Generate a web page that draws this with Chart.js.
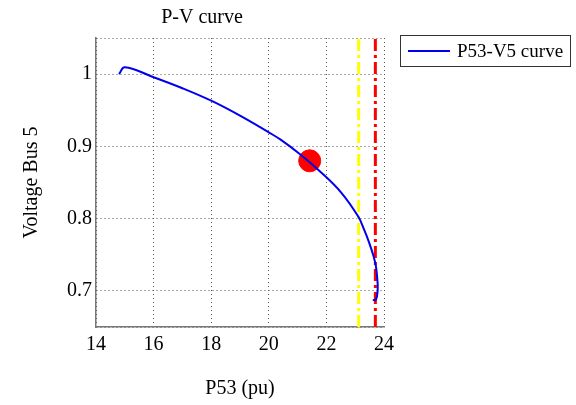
<!DOCTYPE html>
<html>
<head>
<meta charset="utf-8">
<script src="https://cdn.jsdelivr.net/npm/chart.js@4"></script>
<style>
  html, body { margin: 0; padding: 0; background: #fff; }
  #wrap { width: 576px; height: 405px; }
</style>
</head>
<body>
<div id="wrap"><canvas id="pv"></canvas></div>
<script>
// P-V curve data
const curveP = [14.8, 15.0, 16.0, 17.0, 18.0, 19.0, 20.0, 20.41, 21.04, 21.8, 22.5, 23.1, 23.31, 23.49, 23.64, 23.72, 23.77, 23.78, 23.72, 23.61];
const curveV = [1.000, 1.0095, 0.9957, 0.9805, 0.9632, 0.9425, 0.9194, 0.9093, 0.8905, 0.8646, 0.8368, 0.8032, 0.7847, 0.7662, 0.7476, 0.7338, 0.7153, 0.7014, 0.6875, 0.6875];

const operatingPoint = { p: 21.42, v: 0.880 };
const yellowLimitP = 23.12;
const redLimitP = 23.7;

const xTicks = [14, 16, 18, 20, 22, 24];
const yTicks = [0.65, 0.7, 0.8, 0.9, 1, 1.05];
const yLabelled = [0.7, 0.8, 0.9, 1];
const yMin = 0.65, yMax = 1.05;

const serif = "'Liberation Serif', 'Times New Roman', serif";

const curvePoints = curveP.map((p, i) => ({ x: p, y: curveV[i] }));

// legend drawn as a boxed entry to the right of the plot
const boxedLegend = {
    id: 'boxedLegend',
    afterDraw(chart) {
        const ctx = chart.ctx;
        const area = chart.chartArea;
        const left = area.right + 16;
        const top = 35;
        ctx.save();
        ctx.strokeStyle = '#333';
        ctx.lineWidth = 1;
        ctx.strokeRect(left + 0.5, top + 0.5, 170, 31);
        ctx.strokeStyle = '#0000ee';
        ctx.lineWidth = 2;
        ctx.beginPath();
        ctx.moveTo(left + 8, top + 16);
        ctx.lineTo(left + 50, top + 16);
        ctx.stroke();
        ctx.fillStyle = '#000';
        ctx.font = '19px ' + serif;
        ctx.textBaseline = 'middle';
        ctx.fillText('P53-V5 curve', left + 57, top + 17);
        ctx.restore();
    }
};

new Chart(document.getElementById('pv'), {
    type: 'scatter',
    data: {
        datasets: [
            {
                label: 'P53-V5 curve',
                data: curvePoints,
                showLine: true,
                borderColor: '#0000ee',
                borderWidth: 2,
                pointRadius: 0,
                tension: 0.4,
                order: 0
            },
            {
                label: 'operating point',
                data: [{ x: operatingPoint.p, y: operatingPoint.v }],
                backgroundColor: '#ff0000',
                borderColor: '#ff0000',
                pointRadius: 11,
                order: 1
            },
            {
                label: 'limit 1',
                data: [{ x: yellowLimitP, y: yMin }, { x: yellowLimitP, y: yMax }],
                showLine: true,
                borderColor: '#ffff00',
                borderWidth: 3,
                borderDash: [12, 4, 3, 4],
                pointRadius: 0,
                order: 2
            },
            {
                label: 'limit 2',
                data: [{ x: redLimitP, y: yMin }, { x: redLimitP, y: yMax }],
                showLine: true,
                borderColor: '#ff0000',
                borderWidth: 3,
                borderDash: [12, 4, 3, 4],
                pointRadius: 0,
                order: 2
            }
        ]
    },
    options: {
        responsive: true,
        maintainAspectRatio: false,
        animation: false,
        layout: {
            padding: { left: 20, right: 192, top: 6, bottom: 4 }
        },
        plugins: {
            legend: { display: false },
            tooltip: { enabled: false },
            title: {
                display: true,
                text: 'P-V curve',
                color: '#000',
                font: { family: serif, size: 20, weight: 'normal' },
                padding: { top: 0, bottom: 8 }
            }
        },
        scales: {
            x: {
                type: 'linear',
                min: 14,
                max: 24,
                afterBuildTicks: axis => { axis.ticks = xTicks.map(v => ({ value: v })); },
                ticks: {
                    color: '#000',
                    padding: 6,
                    font: { family: serif, size: 20 }
                },
                grid: { color: '#555', drawTicks: false },
                border: { display: true, color: '#777', width: 1.5, dash: [1, 3] },
                title: {
                    display: true,
                    text: 'P53 (pu)',
                    color: '#000',
                    font: { family: serif, size: 20 },
                    padding: { top: 14, bottom: 0 }
                }
            },
            y: {
                type: 'linear',
                min: yMin,
                max: yMax,
                afterBuildTicks: axis => { axis.ticks = yTicks.map(v => ({ value: v })); },
                ticks: {
                    color: '#000',
                    padding: 4,
                    font: { family: serif, size: 20 },
                    callback: v => yLabelled.includes(v) ? String(v) : ''
                },
                grid: { color: '#555', drawTicks: false },
                border: { display: true, color: '#777', width: 1.5, dash: [1, 3] },
                title: {
                    display: true,
                    text: 'Voltage Bus 5',
                    color: '#000',
                    font: { family: serif, size: 20 },
                    padding: { top: 0, bottom: 19 }
                }
            }
        }
    },
    plugins: [boxedLegend]
});
</script>
</body>
</html>
